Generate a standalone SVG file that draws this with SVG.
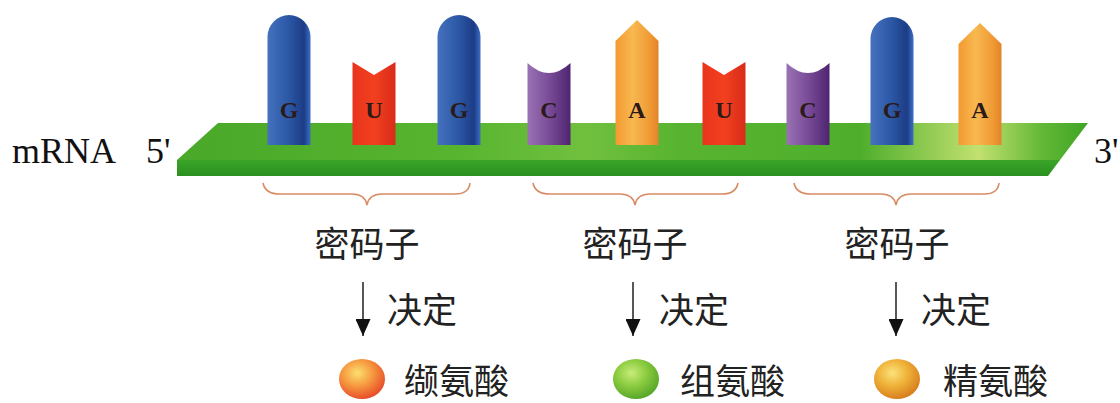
<svg xmlns="http://www.w3.org/2000/svg" width="1120" height="403" viewBox="0 0 1120 403">
  <style>
    .lbl { font-family: "Liberation Serif", "Times New Roman", serif; font-size: 36px; fill: #111; }
    .base { font-family: "Liberation Serif", "Times New Roman", serif; font-size: 24px; font-weight: bold; fill: #2a1a1a; text-anchor: middle; }
    .cn { font-family: "Noto Sans CJK SC", "Noto Sans", sans-serif; font-size: 35px; fill: #222; }
    .brace { fill: none; stroke: #d98c66; stroke-width: 1.6; }
    .arrow { fill: none; stroke: #111; stroke-width: 1.4; }
  </style>
  <defs>
    <linearGradient id="gTop" x1="0" y1="0" x2="1" y2="0">
      <stop offset="0" stop-color="#4aa82a"/>
      <stop offset="0.3" stop-color="#56b42e"/>
      <stop offset="0.45" stop-color="#70c03e"/>
      <stop offset="0.55" stop-color="#58b430"/>
      <stop offset="0.75" stop-color="#4eae2c"/>
      <stop offset="0.88" stop-color="#c2e070"/>
      <stop offset="0.95" stop-color="#62b836"/>
      <stop offset="1" stop-color="#3ea424"/>
    </linearGradient>
    <linearGradient id="gFront" x1="0" y1="0" x2="0" y2="1">
      <stop offset="0" stop-color="#3aa428"/>
      <stop offset="1" stop-color="#2a9020"/>
    </linearGradient>
    <linearGradient id="gBlue" x1="0" y1="0" x2="1" y2="0">
      <stop offset="0" stop-color="#4571bd"/>
      <stop offset="0.45" stop-color="#2d5aa8"/>
      <stop offset="0.85" stop-color="#1c3c85"/>
      <stop offset="1" stop-color="#3b6fc6"/>
    </linearGradient>
    <linearGradient id="gRed" x1="0" y1="0" x2="1" y2="0">
      <stop offset="0" stop-color="#e8341e"/>
      <stop offset="0.5" stop-color="#f2401f"/>
      <stop offset="1" stop-color="#d82c1a"/>
    </linearGradient>
    <linearGradient id="gPurple" x1="0" y1="0" x2="1" y2="0">
      <stop offset="0" stop-color="#9a72b4"/>
      <stop offset="0.5" stop-color="#7a4c98"/>
      <stop offset="1" stop-color="#4e2470"/>
    </linearGradient>
    <linearGradient id="gOrange" x1="0" y1="0" x2="1" y2="0">
      <stop offset="0" stop-color="#f29a30"/>
      <stop offset="0.4" stop-color="#f8b850"/>
      <stop offset="0.8" stop-color="#f09a34"/>
      <stop offset="1" stop-color="#e0842a"/>
    </linearGradient>
    <radialGradient id="bRed" cx="0.4" cy="0.35" r="0.65">
      <stop offset="0" stop-color="#fbe070"/>
      <stop offset="0.5" stop-color="#f69a40"/>
      <stop offset="1" stop-color="#e8502a"/>
    </radialGradient>
    <radialGradient id="bGreen" cx="0.4" cy="0.35" r="0.65">
      <stop offset="0" stop-color="#c8ec7a"/>
      <stop offset="0.5" stop-color="#8ccc40"/>
      <stop offset="1" stop-color="#5aa82a"/>
    </radialGradient>
    <radialGradient id="bGold" cx="0.4" cy="0.35" r="0.65">
      <stop offset="0" stop-color="#fbe27a"/>
      <stop offset="0.5" stop-color="#efb23a"/>
      <stop offset="1" stop-color="#d8801e"/>
    </radialGradient>
    <!-- solid triangular head, pointing along the path direction -->
    <marker id="head" viewBox="0 0 17 15" refX="17" refY="7.5" markerWidth="17" markerHeight="15" markerUnits="userSpaceOnUse" orient="auto">
      <path d="M0,0 L17,7.5 L0,15 Z" fill="#111"/>
    </marker>
  </defs>

  <rect width="1120" height="403" fill="#fff"/>

  <!-- strand labels -->
  <g id="label-mrna">
    <text class="lbl" x="12" y="163">mRNA</text>
    <text class="lbl" x="146" y="163">5'</text>
    <text class="lbl" x="1094" y="163">3'</text>
  </g>

  <!-- green mRNA strip: top face and front face -->
  <g id="strip">
    <path d="M218,123 L1088,123 L1060,160 L177,160 Z" fill="url(#gTop)"/>
    <path d="M177,160 L1060,160 L1048,176 L177,176 Z" fill="url(#gFront)"/>
  </g>

  <!-- bases: G U G | C A U | C G A -->
  <g id="base-g1">
    <path d="M267.5,145 V37 A21.5,22 0 0 1 310.5,37 V145 Z" fill="url(#gBlue)"/>
    <text class="base" x="289" y="118">G</text>
  </g>
  <g id="base-u1">
    <path d="M352.5,145 V62 L374,75 L395.5,62 V145 Z" fill="url(#gRed)"/>
    <text class="base" x="374" y="118">U</text>
  </g>
  <g id="base-g2">
    <path d="M437.5,145 V37 A21.5,22 0 0 1 480.5,37 V145 Z" fill="url(#gBlue)"/>
    <text class="base" x="459" y="118">G</text>
  </g>
  <g id="base-c1">
    <path d="M527.5,145 V63 Q549,83 570.5,63 V145 Z" fill="url(#gPurple)"/>
    <text class="base" x="549" y="118">C</text>
  </g>
  <g id="base-a1">
    <path d="M615.5,145 V41 L637,20 L658.5,41 V145 Z" fill="url(#gOrange)"/>
    <text class="base" x="637" y="118">A</text>
  </g>
  <g id="base-u2">
    <path d="M702.5,145 V62 L724,75 L745.5,62 V145 Z" fill="url(#gRed)"/>
    <text class="base" x="724" y="118">U</text>
  </g>
  <g id="base-c2">
    <path d="M786.5,145 V63 Q808,83 829.5,63 V145 Z" fill="url(#gPurple)"/>
    <text class="base" x="808" y="118">C</text>
  </g>
  <g id="base-g3">
    <path d="M870.5,145 V39 A21.5,22 0 0 1 913.5,39 V145 Z" fill="url(#gBlue)"/>
    <text class="base" x="892" y="118">G</text>
  </g>
  <g id="base-a2">
    <path d="M958.5,145 V44 L980,23 L1001.5,44 V145 Z" fill="url(#gOrange)"/>
    <text class="base" x="980" y="118">A</text>
  </g>

  <!-- codon braces -->
  <g id="braces">
    <path class="brace" d="M263,183 Q265,194 280,194 L352,194 Q365,194 367,205 Q369,194 382,194 L455,194 Q469,194 470,183"/>
    <path class="brace" d="M533,183 Q535,194 550,194 L620,194 Q633,194 635,205 Q637,194 650,194 L722,194 Q736,194 738,183"/>
    <path class="brace" d="M794,183 Q796,194 811,194 L881,194 Q894,194 896,205 Q898,194 911,194 L984,194 Q998,194 999,183"/>
  </g>

  <!-- codon captions -->
  <g id="codon-1"><text class="cn" x="367" y="257" text-anchor="middle">密码子</text></g>
  <g id="codon-2"><text class="cn" x="635" y="257" text-anchor="middle">密码子</text></g>
  <g id="codon-3"><text class="cn" x="897" y="257" text-anchor="middle">密码子</text></g>

  <!-- "determines" arrows -->
  <g id="connectors">
    <path class="arrow" d="M363,282 V336" marker-end="url(#head)"/>
    <path class="arrow" d="M633,282 V336" marker-end="url(#head)"/>
    <path class="arrow" d="M896,282 V336" marker-end="url(#head)"/>
  </g>
  <g id="verb-labels">
    <text class="cn" x="387" y="323">决定</text>
    <text class="cn" x="659" y="323">决定</text>
    <text class="cn" x="921" y="323">决定</text>
  </g>

  <!-- amino acids -->
  <g id="aa-val">
    <ellipse cx="362" cy="379" rx="23" ry="20" fill="url(#bRed)"/>
    <text class="cn" x="404" y="394">缬氨酸</text>
  </g>
  <g id="aa-his">
    <ellipse cx="636" cy="379" rx="23" ry="20" fill="url(#bGreen)"/>
    <text class="cn" x="680" y="394">组氨酸</text>
  </g>
  <g id="aa-arg">
    <ellipse cx="897" cy="379" rx="23" ry="20" fill="url(#bGold)"/>
    <text class="cn" x="943" y="394">精氨酸</text>
  </g>
</svg>
